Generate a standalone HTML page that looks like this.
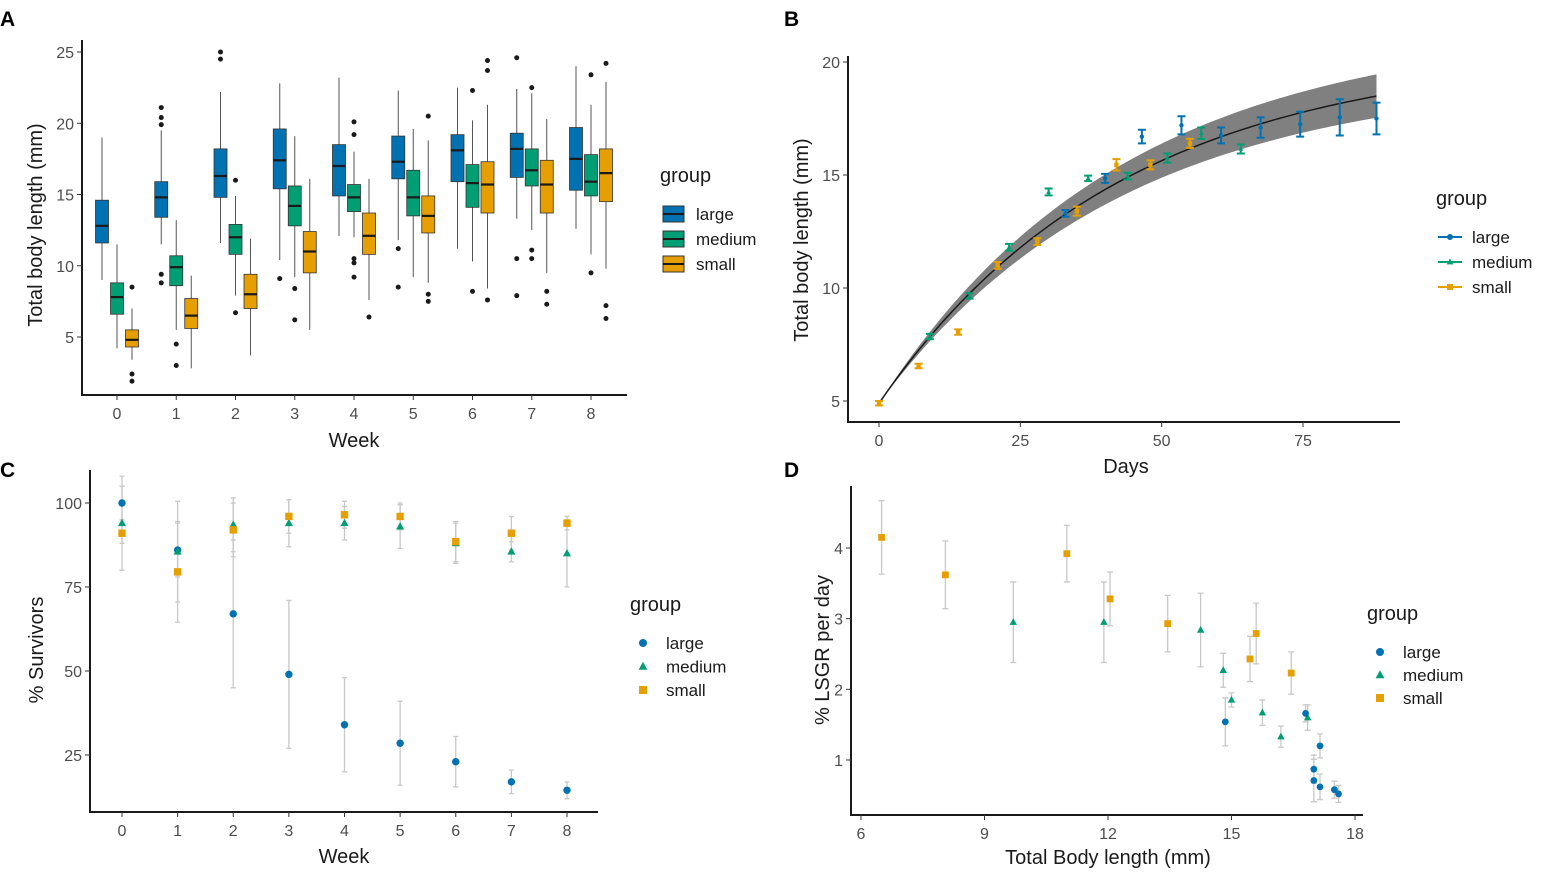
<!DOCTYPE html>
<html><head><meta charset="utf-8"><style>
body{margin:0;background:#fff;}
svg{display:block;font-family:"Liberation Sans",sans-serif;}
.tick{fill:#4d4d4d;font-size:16px;}
.ttl{fill:#1a1a1a;font-size:20px;}
.leg{fill:#1a1a1a;font-size:17px;}
.lbl{fill:#000;font-size:21px;font-weight:bold;}
</style></head><body>
<svg id="fig" width="1549" height="886" viewBox="0 0 1549 886"></svg>
<script>
// ---------- DATA ----------
const groups = ["large","medium","small"];
const weeks = [0,1,2,3,4,5,6,7,8];
// Panel A boxplots: [lowWhisker, q1, median, q3, highWhisker]
const boxLarge = [[9,11.6,12.8,14.6,19],[11.5,13.4,14.8,15.9,19.5],[11.6,14.8,16.3,18.2,22.2],[10.4,15.4,17.4,19.6,22.8],[12.1,14.9,17,18.5,23.2],[11.8,16.1,17.3,19.1,22.3],[11.2,15.9,18.1,19.2,22.5],[13.3,16.2,18.2,19.3,22.4],[12.6,15.3,17.5,19.7,24]];
const boxMedium = [[4.2,6.6,7.8,8.8,11.5],[5.5,8.6,9.9,10.7,13.2],[7.9,10.8,12,12.9,14.9],[9.2,12.8,14.2,15.6,19.1],[12,13.8,14.8,15.7,18],[9.2,13.5,14.8,16.7,19.6],[10.3,14.1,15.8,17.1,20.2],[12.5,15.6,16.7,18.2,22.1],[10.8,14.9,15.9,17.8,21.3]];
const boxSmall = [[3.4,4.3,4.8,5.5,7],[2.8,5.6,6.5,7.7,9.3],[3.7,7,8,9.4,11.9],[5.5,9.5,11,12.4,16.1],[7.6,10.8,12.1,13.7,16.1],[8.8,12.3,13.5,14.9,18.8],[8.4,13.7,15.7,17.3,21.3],[9.5,13.7,15.7,17.4,20.3],[9.8,14.5,16.5,18.2,22.9]];
const outLarge = [[],[21.1,20.4,19.9,9.4,8.8],[25,24.5],[9.1],[],[11.2,8.5],[],[24.6,10.5,7.9],[]];
const outMedium = [[],[4.5,3.0],[16,6.7],[8.4,6.2],[20.1,19.2,10.5,10.2,9.2],[],[22.3,8.2],[22.5,11.1,10.5],[23.4,9.5]];
const outSmall = [[8.5,2.4,1.9],[],[],[],[6.4],[20.5,8,7.5],[24.4,23.7,7.6],[8.2,7.3],[24.2,7.2,6.3]];
const ticksA = [5,10,15,20,25];
// Panel B
const bSmallDays = [0,7,14,21,28,35,42,48,55];
const bSmallLen = [4.9,6.55,8.05,11.0,12.05,13.4,15.45,15.45,16.4];
const bSmallErr = [0.1,0.1,0.12,0.15,0.15,0.2,0.25,0.2,0.2];
const bMedDays = [9,16,23,30,37,44,51,57,64];
const bMedLen = [7.85,9.65,11.8,14.25,14.85,14.95,15.75,16.85,16.15];
const bMedErr = [0.12,0.12,0.15,0.15,0.12,0.15,0.2,0.25,0.2];
const bLargeDays = [33,40,46.5,53.5,60.5,67.5,74.5,81.5,88];
const bLargeLen = [13.3,14.85,16.7,17.2,16.75,17.1,17.25,17.55,17.5];
const bLargeErr = [0.15,0.2,0.3,0.4,0.35,0.45,0.55,0.8,0.7];
const fitParams = [20.5,4.9,0.0233,1.1]; // Linf, L0, k, band scale
const ticksBx = [0,25,50,75];
const ticksBy = [5,10,15,20];
// Panel C
const cLarge = [100,86,67,49,34,28.5,23,17,14.5];
const cLargeErr = [5,8,22,22,14,12.5,7.5,3.5,2.5];
const cMedium = [94,85.5,93.5,94,94,93,88,85.5,85];
const cMediumErr = [14,15,8,7,5,6.5,6,3,10];
const cSmall = [91,79.5,92,96,96.5,96,88.5,91,94];
const cSmallErr = [3,15,8,5,4,4,6,5,2];
const ticksCy = [25,50,75,100];
// Panel D
const dSmallX = [6.5,8.05,11.0,12.05,13.45,15.45,15.6,16.45];
const dSmallY = [4.15,3.62,3.92,3.28,2.93,2.43,2.79,2.23];
const dSmallE = [0.52,0.48,0.4,0.38,0.4,0.32,0.43,0.3];
const dMedX = [9.7,11.9,14.25,14.8,15.0,15.75,16.2,16.85];
const dMedY = [2.95,2.95,2.84,2.27,1.85,1.67,1.33,1.6];
const dMedE = [0.57,0.57,0.52,0.24,0.1,0.18,0.15,0.18];
const dLargeX = [14.85,16.8,17.15,17.0,17.0,17.15,17.5,17.6];
const dLargeY = [1.54,1.66,1.2,0.87,0.71,0.62,0.58,0.52];
const dLargeE = [0.34,0.12,0.17,0.2,0.3,0.18,0.12,0.12];
const ticksDx = [6,9,12,15,18];
const ticksDy = [1,2,3,4];

const COL = {large:"#0072B2",medium:"#009E73",small:"#E69F00"};
const NS = "http://www.w3.org/2000/svg";
const svg = document.getElementById("fig");
function el(tag, attrs, parent, text){
  const e = document.createElementNS(NS, tag);
  for (const k in attrs) e.setAttribute(k, attrs[k]);
  if (text !== undefined) e.textContent = text;
  (parent||svg).appendChild(e);
  return e;
}
function lin(d0,d1,r0,r1){return v=>r0+(v-d0)*(r1-r0)/(d1-d0);}

function axes(g, x0, x1, y0, y1, xt, yt, xs, ys, name){
  const ax = el("path",{d:`M${x0},${y0} L${x0},${y1} L${x1},${y1}`,fill:"none",stroke:"#1a1a1a","stroke-width":2},g);
  
  
  xt.forEach(v=>{
    const x = xs(v);
    el("line",{x1:x,x2:x,y1:y1,y2:y1+5,stroke:"#333"},g);
    const t = el("text",{x:x,y:y1+24,"text-anchor":"middle",class:"tick"},g,String(v));
    
    
  });
  yt.forEach(v=>{
    const y = ys(v);
    el("line",{x1:x0-5,x2:x0,y1:y,y2:y,stroke:"#333"},g);
    const t = el("text",{x:x0-8,y:y+6,"text-anchor":"end",class:"tick"},g,String(v));
    
    
  });
}
function marker(g, grp, x, y, s){
  let m;
  if (grp==="large") m = el("circle",{cx:x,cy:y,r:s,fill:COL.large},g);
  else if (grp==="medium") m = el("path",{d:`M${x},${y-s*1.2} L${x+s*1.1},${y+s*0.8} L${x-s*1.1},${y+s*0.8}Z`,fill:COL.medium},g);
  else m = el("rect",{x:x-s,y:y-s,width:2*s,height:2*s,fill:COL.small},g);
  
  
  return m;
}
function legend(g, x, y, gap, kind, name){
  const t = el("text",{x:x,y:y,class:"ttl"},g,"group");
  
  
  groups.forEach((grp,i)=>{
    const cy = y+32+i*gap;
    if (kind==="box"){
      const r = el("rect",{x:x+3,y:cy-8,width:21,height:16,fill:COL[grp],stroke:"#333","stroke-width":1},g);
      el("line",{x1:x+3,x2:x+24,y1:cy,y2:cy,stroke:"#1a1a1a","stroke-width":2},g);
      
      
    } else if (kind==="line"){
      el("line",{x1:x+2,x2:x+26,y1:cy,y2:cy,stroke:COL[grp],"stroke-width":2},g);
      marker(g,grp,x+14,cy,3);
    } else {
      marker(g,grp,x+13,cy,4);
    }
    const lt = el("text",{x:x+36,y:cy+6,class:"leg"},g,grp);
    
    
  });
}
function ytitle(g,x,cy,txt,name){
  const t = el("text",{x:x,y:cy,transform:`rotate(-90 ${x} ${cy})`,"text-anchor":"middle",class:"ttl"},g,txt);
  
  
}
function panelLabel(x,y,txt){
  const t = el("text",{x:x,y:y,class:"lbl"},svg,txt);
  
  
}

// ---------- PANEL A ----------
(function(){
  const g = el("g",{});
  
  
  const xs = lin(0,8,117,591), ys = lin(5,25,337,52);
  axes(g,82,627,40,395,weeks,ticksA,xs,ys,'panel-a');
  const sets = [boxLarge,boxMedium,boxSmall], outs=[outLarge,outMedium,outSmall], off=[-15,0,15];
  weeks.forEach((w,i)=>{
    groups.forEach((grp,j)=>{
      const b = sets[j][i], cx = xs(w)+off[j], hw=6.5;
      el("line",{x1:cx,x2:cx,y1:ys(b[0]),y2:ys(b[4]),stroke:"#555","stroke-width":1},g);
      const r = el("rect",{x:cx-hw,y:ys(b[3]),width:2*hw,height:ys(b[1])-ys(b[3]),fill:COL[grp],stroke:"#333","stroke-width":0.8},g);
      
      
      el("line",{x1:cx-hw,x2:cx+hw,y1:ys(b[2]),y2:ys(b[2]),stroke:"#1a1a1a","stroke-width":2.2},g);
      outs[j][i].forEach(v=>{
        const c = el("circle",{cx:cx,cy:ys(v),r:2.5,fill:"#1a1a1a"},g);
        
        
      });
    });
  });
  const xt = el("text",{x:354,y:447,"text-anchor":"middle",class:"ttl"},g,"Week");
  
  
  ytitle(g,42,225,"Total body length (mm)",'panel-a-y-axis-title');
  legend(g,660,182,25,"box",'panel-a');
})();

// ---------- PANEL B ----------
(function(){
  const g = el("g",{});
  
  
  const xs = lin(0,75,879,1303), ys = lin(5,20,401,62);
  axes(g,848,1400,56,422,ticksBx,ticksBy,xs,ys,'panel-b');
  const [Linf,L0,k,bs] = fitParams;
  let up=[],dn=[],ln=[];
  for(let t=0;t<=88;t+=1){
    const f = Linf-(Linf-L0)*Math.exp(-k*t), h = bs*(1-Math.exp(-k*t));
    up.push(xs(t)+","+ys(f+h)); dn.unshift(xs(t)+","+ys(f-h)); ln.push(xs(t)+","+ys(f));
  }
  const band = el("polygon",{points:up.concat(dn).join(" "),fill:"#808080"},g);
  
  
  const fl = el("polyline",{points:ln.join(" "),fill:"none",stroke:"#1a1a1a","stroke-width":1.5},g);
  
  
  const series = [["small",bSmallDays,bSmallLen,bSmallErr],["medium",bMedDays,bMedLen,bMedErr],["large",bLargeDays,bLargeLen,bLargeErr]];
  series.forEach(([grp,X,Y,E])=>{
    X.forEach((d,i)=>{
      const x=xs(d), y1=ys(Y[i]+E[i]), y2=ys(Y[i]-E[i]);
      const e = el("path",{d:`M${x-4},${y1}H${x+4}M${x},${y1}V${y2}M${x-4},${y2}H${x+4}`,stroke:COL[grp],"stroke-width":2,fill:"none"},g);
      
      
      marker(g,grp,x,ys(Y[i]),2.2);
    });
  });
  const xt = el("text",{x:1126,y:473,"text-anchor":"middle",class:"ttl"},g,"Days");
  
  
  ytitle(g,808,240,"Total body length (mm)",'panel-b-y-axis-title');
  legend(g,1436,205,25,"line",'panel-b');
})();

// ---------- PANEL C ----------
(function(){
  const g = el("g",{});
  
  
  const xs = lin(0,8,122,567), ys = lin(25,100,755,503);
  axes(g,90,598,470,812,weeks,ticksCy,xs,ys,'panel-c');
  const series = [["large",cLarge,cLargeErr],["medium",cMedium,cMediumErr],["small",cSmall,cSmallErr]];
  series.forEach(([grp,Y,E])=>{
    weeks.forEach((w,i)=>{
      const x=xs(w), y1=ys(Y[i]+E[i]), y2=ys(Y[i]-E[i]);
      const e = el("path",{d:`M${x-2.5},${y1}H${x+2.5}M${x},${y1}V${y2}M${x-2.5},${y2}H${x+2.5}`,stroke:"#c8c8c8","stroke-width":1.3,fill:"none"},g);
      
      
    });
  });
  series.forEach(([grp,Y])=>{ weeks.forEach((w,i)=>marker(g,grp,xs(w),ys(Y[i]),3.7)); });
  const xt = el("text",{x:344,y:863,"text-anchor":"middle",class:"ttl"},g,"Week");
  
  
  ytitle(g,43,650,"% Survivors",'panel-c-y-axis-title');
  legend(g,630,611,23.5,"point",'panel-c');
})();

// ---------- PANEL D ----------
(function(){
  const g = el("g",{});
  
  
  const xs = lin(6,18,861,1355), ys = lin(1,4,760,548);
  axes(g,851,1363,486,815,ticksDx,ticksDy,xs,ys,'panel-d');
  const series = [["small",dSmallX,dSmallY,dSmallE],["medium",dMedX,dMedY,dMedE],["large",dLargeX,dLargeY,dLargeE]];
  series.forEach(([grp,X,Y,E])=>{
    X.forEach((v,i)=>{
      const x=xs(v), y1=ys(Y[i]+E[i]), y2=ys(Y[i]-E[i]);
      const e = el("path",{d:`M${x-3},${y1}H${x+3}M${x},${y1}V${y2}M${x-3},${y2}H${x+3}`,stroke:"#c8c8c8","stroke-width":1.3,fill:"none"},g);
      
      
    });
  });
  series.forEach(([grp,X,Y])=>{ X.forEach((v,i)=>marker(g,grp,xs(v),ys(Y[i]),3.4)); });
  const xt = el("text",{x:1108,y:864,"text-anchor":"middle",class:"ttl"},g,"Total Body length (mm)");
  
  
  ytitle(g,829,650,"% LSGR per day",'panel-d-y-axis-title');
  legend(g,1367,620,23,"point",'panel-d');
})();

panelLabel(0,26,"A");
panelLabel(784,26,"B");
panelLabel(0,477,"C");
panelLabel(784,477,"D");
</script>
</body></html>
